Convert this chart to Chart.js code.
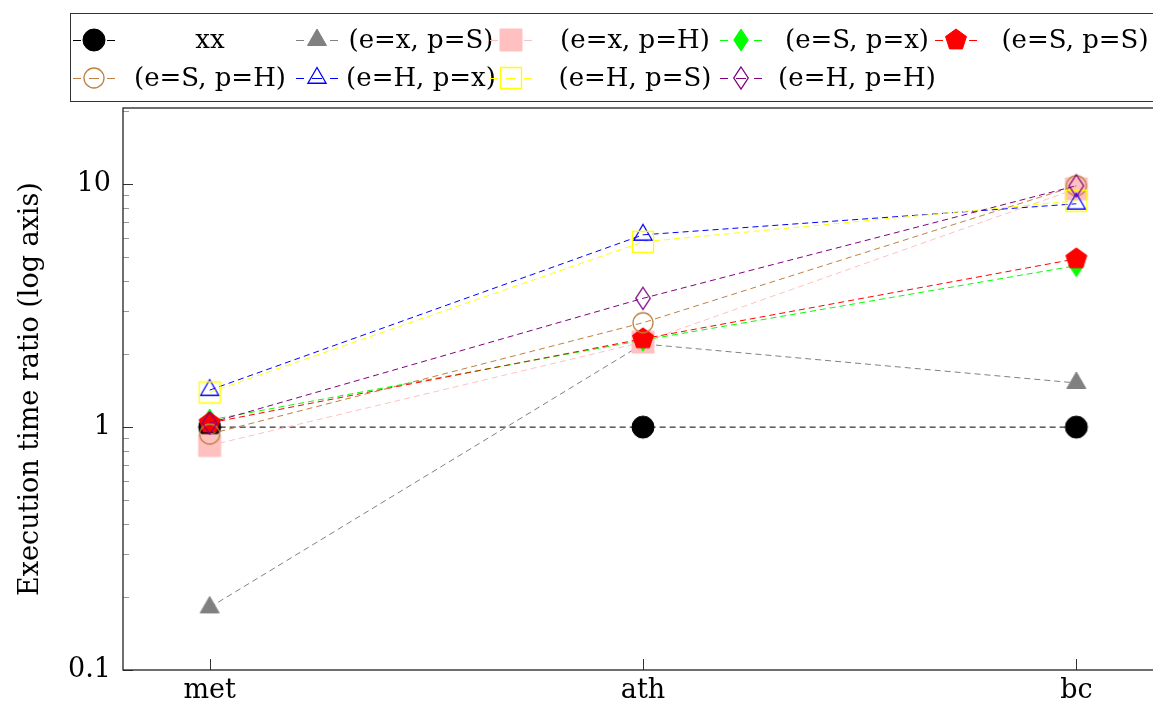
<!DOCTYPE html>
<html>
<head>
<meta charset="utf-8">
<script src="https://cdn.jsdelivr.net/npm/chart.js@4.4.1/dist/chart.umd.min.js"></script>
<style>
  body { margin: 0; background: #fff; overflow: hidden; }
  #wrap { position: relative; width: 1153px; height: 707px; overflow: hidden; }
  #chart { position: absolute; left: 0; top: 0; }
  .lbox { position: absolute; border: 1px solid #333; background: #fff; }
  .ltext { position: absolute; width: 220px; text-align: center; font: 26px 'DejaVu Serif', serif; line-height: 30px; color: #000; white-space: nowrap; }
  .lmark { position: absolute; }
</style>
</head>
<body>
<div id="wrap">
  <canvas id="chart" width="1175" height="707"></canvas>
</div>
<script>
// categories and series
const categories = ['met', 'ath', 'bc'];
const seriesNames = ['xx', '(e=x, p=S)', '(e=x, p=H)', '(e=S, p=x)', '(e=S, p=S)',
                     '(e=S, p=H)', '(e=H, p=x)', '(e=H, p=S)', '(e=H, p=H)'];
const xx  = [1, 1, 1];
const xS  = [0.181, 2.2, 1.52];
const xH  = [0.84, 2.24, 9.58];
const Sx  = [1.07, 2.28, 4.62];
const SS  = [1.04, 2.31, 4.93];
const SH  = [0.936, 2.69, 9.86];
const Hx  = [1.42, 6.19, 8.31];
const HS  = [1.39, 5.79, 8.55];
const HH  = [1.04, 3.39, 9.86];
const seriesValues = [xx, xS, xH, Sx, SS, SH, Hx, HS, HH];
const yMajorTicks = [0.1, 1, 10];

// marker styles: shape, fill, stroke, size
const styles = [
  { color: '#000000', shape: 'circle',   fill: '#000000', size: 11 },
  { color: '#808080', shape: 'triangle', fill: '#808080', size: 11 },
  { color: '#ffc0c0', shape: 'square',   fill: '#ffc0c0', size: 11 },
  { color: '#00ff00', shape: 'diamond',  fill: '#00ff00', size: 11 },
  { color: '#ff0000', shape: 'pentagon', fill: '#ff0000', size: 11 },
  { color: '#bf8040', shape: 'circle',   fill: null,      size: 10 },
  { color: '#0000ff', shape: 'triangle', fill: null,      size: 10.5 },
  { color: '#ffff00', shape: 'square',   fill: null,      size: 10.5 },
  { color: '#800080', shape: 'diamond',  fill: null,      size: 11 }
];

function makeMarker(s) {
  const c = document.createElement('canvas');
  c.width = 32; c.height = 32;
  const g = c.getContext('2d');
  g.translate(16, 16);
  g.beginPath();
  const r = s.size;
  if (s.shape === 'circle') {
    g.arc(0, 0, r, 0, Math.PI * 2);
  } else if (s.shape === 'triangle') {
    g.moveTo(0, -r);
    g.lineTo(r * 0.866, r / 2);
    g.lineTo(-r * 0.866, r / 2);
    g.closePath();
  } else if (s.shape === 'square') {
    g.rect(-r, -r, 2 * r, 2 * r);
  } else if (s.shape === 'diamond') {
    g.moveTo(0, -r);
    g.lineTo(r * 0.66, 0);
    g.lineTo(0, r);
    g.lineTo(-r * 0.66, 0);
    g.closePath();
  } else if (s.shape === 'pentagon') {
    for (let k = 0; k < 5; k++) {
      const a = -Math.PI / 2 + k * 2 * Math.PI / 5;
      const px = Math.cos(a) * r, py = Math.sin(a) * r;
      if (k === 0) g.moveTo(px, py); else g.lineTo(px, py);
    }
    g.closePath();
  }
  if (s.fill) {
    g.fillStyle = s.fill;
    g.fill();
  }
  g.strokeStyle = s.color;
  g.lineWidth = s.fill ? 1 : 1.3;
  g.stroke();
  return c;
}

const markers = styles.map(makeMarker);

const datasets = seriesValues.map((vals, i) => ({
  label: seriesNames[i],
  data: vals.map((v, j) => ({ x: j, y: v })),
  borderColor: styles[i].color,
  backgroundColor: styles[i].color,
  borderWidth: 1,
  borderDash: [6, 4],
  pointStyle: markers[i],
  pointRadius: 11,
  pointHoverRadius: 11,
  tension: 0,
  order: seriesValues.length - i
}));

// inside tick marks and plot frame
const framePlugin = {
  id: 'frame',
  beforeDatasetsDraw(chart) {
    const { ctx, chartArea: a, scales: { x, y } } = chart;
    ctx.save();
    ctx.lineWidth = 1;
    // minor y ticks
    ctx.strokeStyle = '#999';
    for (let d = 0.1; d < 100; d *= 10) {
      for (let m = 2; m <= 9; m++) {
        const v = d * m;
        if (v > y.max) continue;
        const py = Math.round(y.getPixelForValue(v)) + 0.5;
        ctx.beginPath(); ctx.moveTo(a.left, py); ctx.lineTo(a.left + 6, py); ctx.stroke();
      }
    }
    ctx.strokeStyle = '#333';
    yMajorTicks.forEach(v => {
      const py = Math.round(y.getPixelForValue(v)) + 0.5;
      ctx.beginPath(); ctx.moveTo(a.left, py); ctx.lineTo(a.left + 10, py); ctx.stroke();
    });
    categories.forEach((c, i) => {
      const px = Math.round(x.getPixelForValue(i)) + 0.5;
      ctx.beginPath(); ctx.moveTo(px, a.bottom); ctx.lineTo(px, a.bottom - 11); ctx.stroke();
    });
    ctx.strokeStyle = '#222';
    ctx.lineWidth = 1.3;
    ctx.strokeRect(a.left, a.top, a.right - a.left, a.bottom - a.top);
    ctx.restore();
  }
};

Chart.defaults.font.family = "'DejaVu Serif', serif";
Chart.defaults.font.size = 27;
Chart.defaults.color = '#000';

new Chart(document.getElementById('chart'), {
  type: 'line',
  data: { datasets },
  plugins: [framePlugin],
  options: {
    responsive: false,
    animation: false,
    events: [],
    layout: { padding: { top: 108, right: 11, left: 0, bottom: 0 } },
    plugins: { legend: { display: false }, tooltip: { enabled: false } },
    scales: {
      x: {
        type: 'linear',
        min: -0.2,
        max: 2.2,
        grid: { display: false, drawTicks: false },
        border: { display: false },
        afterBuildTicks: s => { s.ticks = categories.map((c, i) => ({ value: i })); },
        afterFit: s => { s.height = 37; },
        ticks: {
          padding: 5,
          callback: v => categories[v]
        }
      },
      y: {
        type: 'logarithmic',
        min: 0.1,
        max: 20.6,
        grid: { display: false, drawTicks: false },
        border: { display: false },
        afterBuildTicks: s => { s.ticks = yMajorTicks.map(v => ({ value: v })); },
        afterFit: s => { s.width = 123; },
        ticks: {
          padding: 12,
          callback: v => String(v)
        },
        title: {
          display: true,
          text: 'Execution time ratio (log axis)',
          padding: { top: 15, bottom: 0 }
        }
      }
    }
  }
});

// legend box drawn in the page, laid out in pgfplots-style columns
const wrap = document.getElementById('wrap');
const box = document.createElement('div');
box.className = 'lbox';
box.style.left = '70px'; box.style.top = '13px';
box.style.width = '1120px'; box.style.height = '87px';
wrap.appendChild(box);

const markCols = [94, 317, 511, 741, 956];
const textCols = [210, 421, 635, 857, 1075];
const rowsY = [40, 78];

seriesNames.forEach((name, i) => {
  const col = i % 5, row = Math.floor(i / 5);
  const cy = rowsY[row];
  const mc = document.createElement('canvas');
  mc.width = 46; mc.height = 32;
  mc.className = 'lmark';
  mc.style.left = (markCols[col] - 23) + 'px';
  mc.style.top = (cy - 16) + 'px';
  const g = mc.getContext('2d');
  g.strokeStyle = styles[i].color;
  g.lineWidth = 1;
  [[2, 10], [18, 28], [36, 44]].forEach(([a, b]) => {
    g.beginPath(); g.moveTo(a, 16.5); g.lineTo(b, 16.5); g.stroke();
  });
  g.drawImage(markers[i], 7, 0);
  wrap.appendChild(mc);

  const t = document.createElement('div');
  t.className = 'ltext';
  t.textContent = name;
  t.style.left = (textCols[col] - 110) + 'px';
  t.style.top = (cy - 16) + 'px';
  wrap.appendChild(t);
});
</script>
</body>
</html>
